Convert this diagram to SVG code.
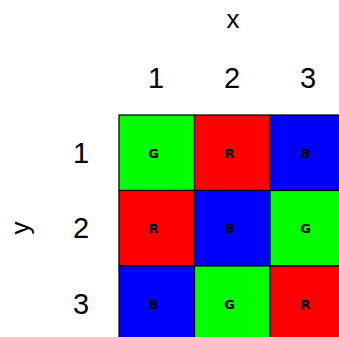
<svg xmlns="http://www.w3.org/2000/svg" width="339" height="337" viewBox="0 0 339 337">
<style>
.lab{font-family:"Liberation Sans","DejaVu Sans",sans-serif;font-size:29px;fill:#000;text-anchor:middle}
.c{font-family:"DejaVu Sans","Liberation Sans",sans-serif;font-size:13px;font-weight:bold;fill:#000;text-anchor:middle;dominant-baseline:central}
.cell{stroke:#000;stroke-width:1.2}
.G{fill:#00ff00}.R{fill:#ff0000}.B{fill:#0000ff}
</style>
<rect width="339" height="337" fill="#fff"/>
<g id="axis-labels">
<text class="lab" x="233" y="28" style="font-size:26px">x</text>
<text class="lab" transform="translate(29,228) rotate(-90)" x="0" y="0" style="font-size:26px">y</text>
<text class="lab" x="156" y="88">1</text>
<text class="lab" x="232" y="88">2</text>
<text class="lab" x="308" y="88">3</text>
<text class="lab" x="81" y="163">1</text>
<text class="lab" x="81" y="238">2</text>
<text class="lab" x="81" y="314">3</text>
</g>
<g id="cell-1-1"><rect class="cell G" x="119" y="115" width="75.5" height="75.5"/><text class="c" x="153.5" y="153">G</text></g>
<g id="cell-2-1"><rect class="cell R" x="194.5" y="115" width="75.5" height="75.5"/><text class="c" x="229.5" y="153">R</text></g>
<g id="cell-3-1"><rect class="cell B" x="270" y="115" width="75.5" height="75.5"/><text class="c" x="305.5" y="153">B</text></g>
<g id="cell-1-2"><rect class="cell R" x="119" y="190.5" width="75.5" height="75.5"/><text class="c" x="153.5" y="228.5">R</text></g>
<g id="cell-2-2"><rect class="cell B" x="194.5" y="190.5" width="75.5" height="75.5"/><text class="c" x="229.5" y="228.5">B</text></g>
<g id="cell-3-2"><rect class="cell G" x="270" y="190.5" width="75.5" height="75.5"/><text class="c" x="305.5" y="228.5">G</text></g>
<g id="cell-1-3"><rect class="cell B" x="119" y="266" width="75.5" height="75.5"/><text class="c" x="153.5" y="304">B</text></g>
<g id="cell-2-3"><rect class="cell G" x="194.5" y="266" width="75.5" height="75.5"/><text class="c" x="229.5" y="304">G</text></g>
<g id="cell-3-3"><rect class="cell R" x="270" y="266" width="75.5" height="75.5"/><text class="c" x="305.5" y="304">R</text></g>
<g id="connectors"/>
</svg>
